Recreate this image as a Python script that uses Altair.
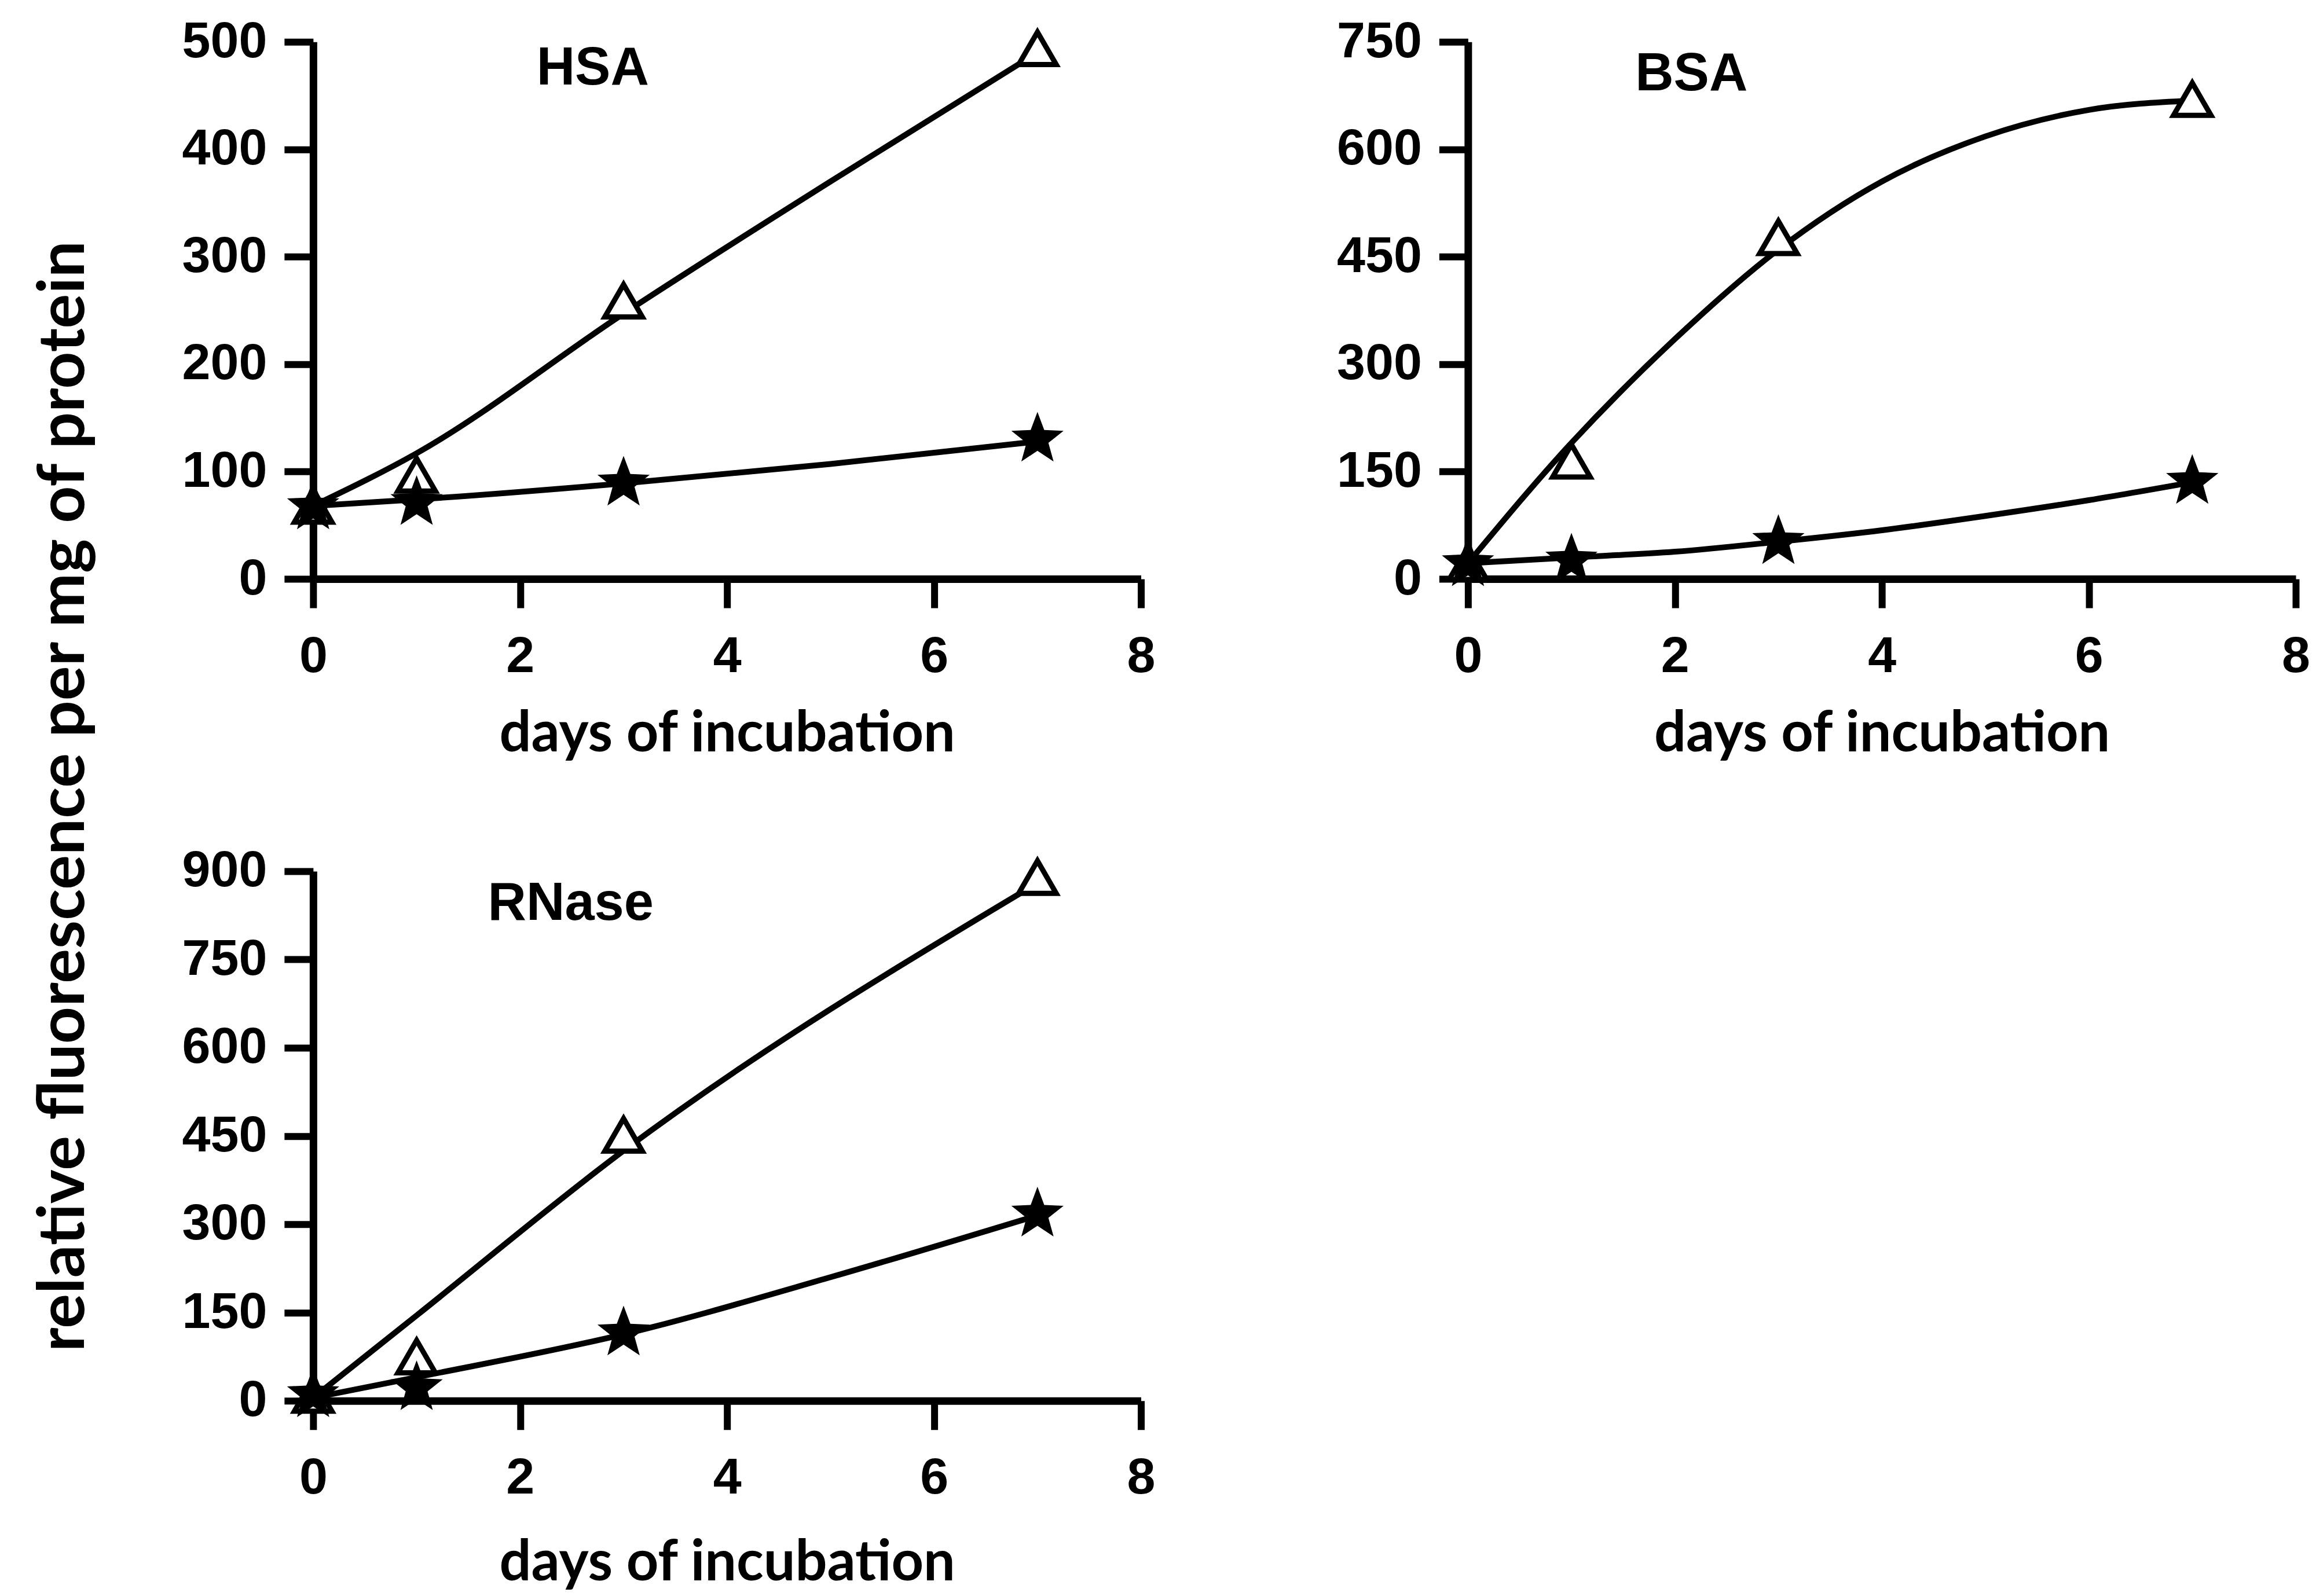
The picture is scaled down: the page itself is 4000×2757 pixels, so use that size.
import math
import altair as alt
import pandas as pd

# ---------------- data ----------------
days = [0, 1, 3, 7]

hsa_triangle = [68, 97, 259, 494]
hsa_star = [67, 71, 89, 130]
hsa_tri_fit_days = [0, 1, 3, 5, 7]
hsa_tri_fit = [68, 117, 247, 370, 490]
hsa_star_fit_days = [0, 1, 3, 5, 7]
hsa_star_fit = [68, 74, 89, 107, 128]

bsa_triangle = [22, 165, 477, 670]
bsa_star = [21, 26, 52, 136]
bsa_tri_fit_days = [0, 1, 2, 3, 4, 5, 6, 7]
bsa_tri_fit = [22, 190, 335, 460, 555, 618, 655, 668]
bsa_star_fit_days = [0, 1, 2, 3, 4, 5, 6, 7]
bsa_star_fit = [22, 30, 38, 52, 68, 88, 110, 135]

rnase_triangle = [10, 75, 452, 890]
rnase_star = [10, 22, 115, 317]
rnase_tri_fit_days = [0, 1, 3, 7]
rnase_tri_fit = [5, 145, 425, 880]
rnase_star_fit_days = [0, 1, 3, 5, 7]
rnase_star_fit = [5, 40, 113, 210, 315]

x_ticks = [0, 2, 4, 6, 8]
hsa_yticks = [0, 100, 200, 300, 400, 500]
bsa_yticks = [0, 150, 300, 450, 600, 750]
rnase_yticks = [0, 150, 300, 450, 600, 750, 900]

x_title = "days of incubation"
y_title = "relative fluorescence per mg of protein"

NARROW = "'Liberation Sans', Arial, sans-serif"
TITLEFONT = "Lato, 'Open Sans', sans-serif"

W = 1430

# five-pointed star symbol path in the [-1, 1] box
_pts = []
for k in range(10):
    r = 1.0 if k % 2 == 0 else 0.42
    a = math.radians(-90 + 36 * k)
    _pts.append(f"{r * math.cos(a):.3f},{r * math.sin(a):.3f}")
STAR_PATH = "M" + " L".join(_pts) + " Z"


def panel(name, tri, star, tfd, tf, sfd, sf, ymax, yticks, h, tx, ty, show_ytitle, xtitle_y):
    pts_tri = pd.DataFrame({"day": days, "value": tri})
    pts_star = pd.DataFrame({"day": days, "value": star})
    fit = pd.DataFrame({
        "day": tfd + sfd,
        "value": tf + sf,
        "series": ["triangle"] * len(tfd) + ["star"] * len(sfd),
    })

    xaxis = alt.Axis(
        values=x_ticks, title=x_title, grid=False,
        domainColor="black", domainWidth=13,
        tickColor="black", tickWidth=12, tickSize=50,
        labelFont=NARROW, labelFontSize=88, labelFontWeight="bold",
        labelColor="black", labelPadding=40, labelFlush=False, labelOverlap=False,
        titleFont=TITLEFONT, titleFontSize=97, titleFontWeight="bold",
        titleColor="black", titleY=xtitle_y, titleBaseline="alphabetic",
    )
    yargs = dict(
        values=yticks, grid=False,
        domainColor="black", domainWidth=13,
        tickColor="black", tickWidth=12, tickSize=50,
        labelFont=NARROW, labelFontSize=88, labelFontWeight="bold",
        labelColor="black", labelPadding=30, labelFlush=False, labelOverlap=False,
    )
    if show_ytitle:
        yaxis = alt.Axis(
            title=y_title, titleFont=TITLEFONT, titleFontSize=112,
            titleFontWeight="bold", titleColor="black",
            titleAngle=270, titleBaseline="middle", titleAlign="center",
            titleX=-430, titleY=1303, **yargs,
        )
    else:
        yaxis = alt.Axis(title=None, **yargs)

    xenc = alt.X("day:Q", scale=alt.Scale(domain=[0, 8], nice=False, zero=False), axis=xaxis)
    yenc = alt.Y("value:Q", scale=alt.Scale(domain=[0, ymax], nice=False), axis=yaxis)

    lines = alt.Chart(fit).mark_line(
        color="black", strokeWidth=10, interpolate="monotone", strokeCap="round"
    ).encode(x=xenc, y=yenc, detail="series:N")

    tris = alt.Chart(pts_tri).mark_point(
        shape="triangle-up", filled=True, fill="white", stroke="black",
        strokeWidth=9, size=4200, opacity=1
    ).encode(x=xenc, y=yenc)

    stars = alt.Chart(pts_star).mark_point(
        shape=STAR_PATH, filled=True, color="black", size=9000, opacity=1
    ).encode(x=xenc, y=yenc)

    label = alt.Chart(pd.DataFrame({"label": [name]})).mark_text(
        font=NARROW, fontSize=92, fontWeight="bold", color="black",
        align="center", baseline="middle"
    ).encode(x=alt.value(tx), y=alt.value(ty), text="label:N")

    return alt.layer(lines, tris, stars, label).properties(width=W, height=h)


hsa = panel("HSA", hsa_triangle, hsa_star, hsa_tri_fit_days, hsa_tri_fit,
            hsa_star_fit_days, hsa_star_fit, 500, hsa_yticks, 928, 483, 46, True, 297)
bsa = panel("BSA", bsa_triangle, bsa_star, bsa_tri_fit_days, bsa_tri_fit,
            bsa_star_fit_days, bsa_star_fit, 750, bsa_yticks, 928, 386, 56, False, 297)
rnase = panel("RNase", rnase_triangle, rnase_star, rnase_tri_fit_days, rnase_tri_fit,
              rnase_star_fit_days, rnase_star_fit, 900, rnase_yticks, 915, 445, 56, False, 310)

chart = alt.concat(
    hsa, bsa, rnase, columns=2,
    spacing={"row": 505, "column": 565}, bounds="flush",
).properties(
    padding={"left": 55, "top": 28, "right": 10, "bottom": 10},
    background="white",
).configure_view(stroke=None)

chart.save("out.html", embed_options={"renderer": "svg", "actions": False})
